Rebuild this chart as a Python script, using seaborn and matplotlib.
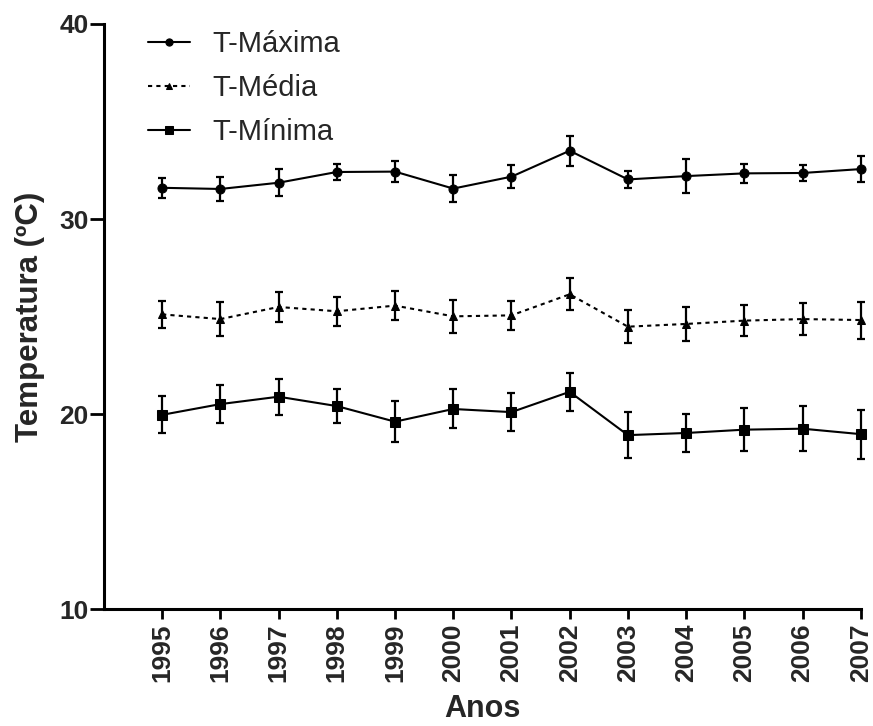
import numpy as np
import pandas as pd
import seaborn as sns
import matplotlib.pyplot as plt

anos = [1995, 1996, 1997, 1998, 1999, 2000, 2001, 2002, 2003, 2004, 2005, 2006, 2007]
t_max = [31.6, 31.54, 31.86, 32.41, 32.43, 31.56, 32.17, 33.5, 32.03, 32.2, 32.34, 32.36, 32.56]
t_max_err = [0.5, 0.62, 0.7, 0.41, 0.53, 0.71, 0.58, 0.78, 0.42, 0.89, 0.5, 0.42, 0.68]
t_med = [25.11, 24.87, 25.49, 25.27, 25.56, 25.01, 25.06, 26.14, 24.48, 24.62, 24.79, 24.87, 24.82]
t_med_err = [0.71, 0.87, 0.77, 0.73, 0.75, 0.86, 0.75, 0.83, 0.85, 0.89, 0.79, 0.8, 0.95]
t_min = [19.96, 20.51, 20.89, 20.41, 19.61, 20.26, 20.1, 21.14, 18.92, 19.03, 19.2, 19.25, 18.97]
t_min_err = [0.95, 0.97, 0.92, 0.86, 1.05, 1.0, 0.97, 0.97, 1.17, 0.97, 1.09, 1.16, 1.25]

sns.set_theme(style="ticks")
plt.rcParams['font.family'] = ['Liberation Sans', 'DejaVu Sans']

fig = plt.figure(figsize=(8.73, 7.26), dpi=100)
ax = fig.add_axes([0.119, 0.161, 0.867, 0.806])

series = [
    ("T-Máxima", t_max, t_max_err, "o", "-", 6.5),
    ("T-Média", t_med, t_med_err, "^", (0, (2, 2)), 6),
    ("T-Mínima", t_min, t_min_err, "s", "-", 6.5),
]
for nome, vals, err, mk, ls, ms in series:
    sns.lineplot(x=anos, y=vals, marker=mk, markersize=ms, color="black",
                 linestyle=ls, linewidth=1.5, markeredgecolor="black",
                 label=nome, ax=ax, clip_on=False)
    ax.errorbar(anos, vals, yerr=err, fmt="none", ecolor="black",
                elinewidth=1.6, capsize=3, capthick=1.6, clip_on=False)

ax.set_xlim(1994, 2007)
ax.set_ylim(10, 40)
ax.set_xticks(anos)
ax.set_xticklabels([str(a) for a in anos], rotation=90, fontsize=19, fontweight="bold")
ax.set_yticks([10, 20, 30, 40])
ax.set_yticklabels(["10", "20", "30", "40"], fontsize=19, fontweight="bold")
ax.set_xlabel("Anos", fontsize=22, fontweight="bold", labelpad=9)
ax.set_ylabel("Temperatura (ºC)", fontsize=22.5, fontweight="bold", labelpad=10)

sns.despine(ax=ax)
for s in ["left", "bottom"]:
    ax.spines[s].set_linewidth(2.2)
    ax.spines[s].set_color("black")
ax.tick_params(axis="y", length=10, width=2, color="black", pad=1)
ax.tick_params(axis="x", length=7, width=2, color="black", pad=3)

leg = ax.legend(loc="upper left", bbox_to_anchor=(0.058, 0.99), frameon=False,
                borderaxespad=0, borderpad=0, markerscale=0.8,
                fontsize=21, handlelength=1.45, handletextpad=0.75, labelspacing=0.55)

fig.savefig("out.png", dpi=100)
